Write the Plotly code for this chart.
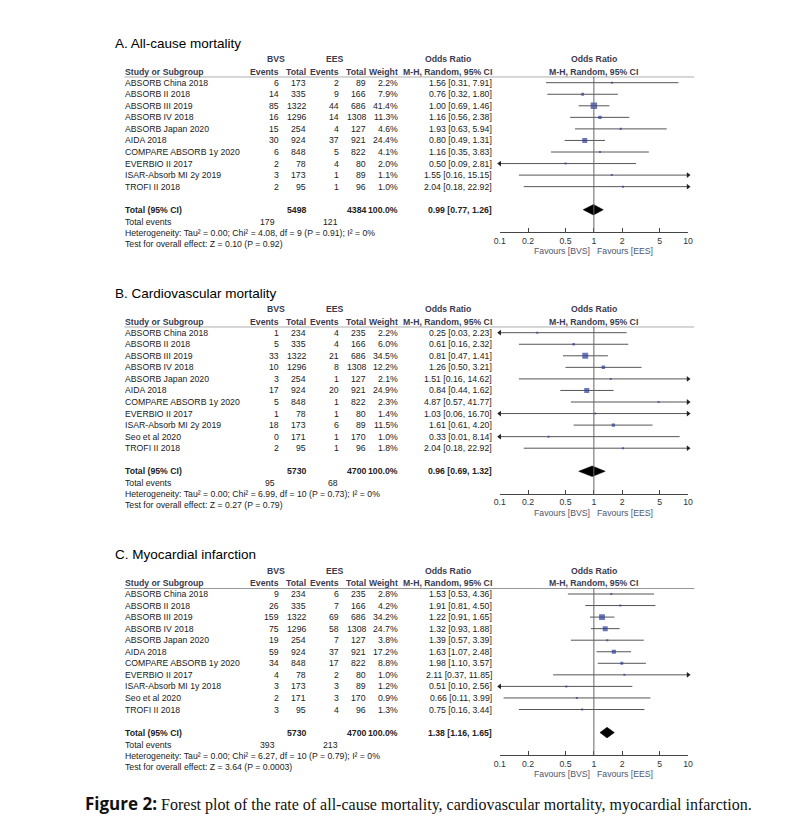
import plotly.graph_objects as go

W, H = 787, 834

# ---------------- data ----------------
studies_A = ["ABSORB China 2018", "ABSORB II 2018", "ABSORB III 2019", "ABSORB IV 2018",
             "ABSORB Japan 2020", "AIDA 2018", "COMPARE ABSORB 1y 2020", "EVERBIO II 2017",
             "ISAR-Absorb MI 2y 2019", "TROFI II 2018"]
bvs_events_A = [6, 14, 85, 16, 15, 30, 6, 2, 3, 2]
bvs_total_A = [173, 335, 1322, 1296, 254, 924, 848, 78, 173, 95]
ees_events_A = [2, 9, 44, 14, 4, 37, 5, 4, 1, 1]
ees_total_A = [89, 166, 686, 1308, 127, 921, 822, 80, 89, 96]
weight_A = [2.2, 7.9, 41.4, 11.3, 4.6, 24.4, 4.1, 2.0, 1.1, 1.0]
or_A = [1.56, 0.76, 1.00, 1.16, 1.93, 0.80, 1.16, 0.50, 1.55, 2.04]
lo_A = [0.31, 0.32, 0.69, 0.56, 0.63, 0.49, 0.35, 0.09, 0.16, 0.18]
hi_A = [7.91, 1.80, 1.46, 2.38, 5.94, 1.31, 3.83, 2.81, 15.15, 22.92]
pooled_A = [0.99, 0.77, 1.26]
het_A = "Heterogeneity: Tau² = 0.00; Chi² = 4.08, df = 9 (P = 0.91); I² = 0%"
test_A = "Test for overall effect: Z = 0.10 (P = 0.92)"

studies_B = ["ABSORB China 2018", "ABSORB II 2018", "ABSORB III 2019", "ABSORB IV 2018",
             "ABSORB Japan 2020", "AIDA 2018", "COMPARE ABSORB 1y 2020", "EVERBIO II 2017",
             "ISAR-Absorb MI 2y 2019", "Seo et al 2020", "TROFI II 2018"]
bvs_events_B = [1, 5, 33, 10, 3, 17, 5, 1, 18, 0, 2]
bvs_total_B = [234, 335, 1322, 1296, 254, 924, 848, 78, 173, 171, 95]
ees_events_B = [4, 4, 21, 8, 1, 20, 1, 1, 6, 1, 1]
ees_total_B = [235, 166, 686, 1308, 127, 921, 822, 80, 89, 170, 96]
weight_B = [2.2, 6.0, 34.5, 12.2, 2.1, 24.9, 2.3, 1.4, 11.5, 1.0, 1.8]
or_B = [0.25, 0.61, 0.81, 1.26, 1.51, 0.84, 4.87, 1.03, 1.61, 0.33, 2.04]
lo_B = [0.03, 0.16, 0.47, 0.50, 0.16, 0.44, 0.57, 0.06, 0.61, 0.01, 0.18]
hi_B = [2.23, 2.32, 1.41, 3.21, 14.62, 1.62, 41.77, 16.70, 4.20, 8.14, 22.92]
pooled_B = [0.96, 0.69, 1.32]
het_B = "Heterogeneity: Tau² = 0.00; Chi² = 6.99, df = 10 (P = 0.73); I² = 0%"
test_B = "Test for overall effect: Z = 0.27 (P = 0.79)"

studies_C = ["ABSORB China 2018", "ABSORB II 2018", "ABSORB III 2019", "ABSORB IV 2018",
             "ABSORB Japan 2020", "AIDA 2018", "COMPARE ABSORB 1y 2020", "EVERBIO II 2017",
             "ISAR-Absorb MI 1y 2018", "Seo et al 2020", "TROFI II 2018"]
bvs_events_C = [9, 26, 159, 75, 19, 59, 34, 4, 3, 2, 3]
bvs_total_C = [234, 335, 1322, 1296, 254, 924, 848, 78, 173, 171, 95]
ees_events_C = [6, 7, 69, 58, 7, 37, 17, 2, 3, 3, 4]
ees_total_C = [235, 166, 686, 1308, 127, 921, 822, 80, 89, 170, 96]
weight_C = [2.8, 4.2, 34.2, 24.7, 3.8, 17.2, 8.8, 1.0, 1.2, 0.9, 1.3]
or_C = [1.53, 1.91, 1.22, 1.32, 1.39, 1.63, 1.98, 2.11, 0.51, 0.66, 0.75]
lo_C = [0.53, 0.81, 0.91, 0.93, 0.57, 1.07, 1.10, 0.37, 0.10, 0.11, 0.16]
hi_C = [4.36, 4.50, 1.65, 1.88, 3.39, 2.48, 3.57, 11.85, 2.56, 3.99, 3.44]
pooled_C = [1.38, 1.16, 1.65]
het_C = "Heterogeneity: Tau² = 0.00; Chi² = 6.27, df = 10 (P = 0.79); I² = 0%"
test_C = "Test for overall effect: Z = 3.64 (P = 0.0003)"

titles = ["A. All-cause mortality", "B. Cardiovascular mortality", "C. Myocardial infarction"]
total_weight = "100.0%"
tick_vals = [0.1, 0.2, 0.5, 1, 2, 5, 10]
tick_text = ["0.1", "0.2", "0.5", "1", "2", "5", "10"]
caption_bold = "Figure 2:"
caption_rest = " Forest plot of the rate of all-cause mortality, cardiovascular mortality, myocardial infarction."

panels = [
    dict(studies=studies_A, be=bvs_events_A, bt=bvs_total_A, ee=ees_events_A, et=ees_total_A,
         w=weight_A, orv=or_A, lo=lo_A, hi=hi_A, pooled=pooled_A, het=het_A, test=test_A),
    dict(studies=studies_B, be=bvs_events_B, bt=bvs_total_B, ee=ees_events_B, et=ees_total_B,
         w=weight_B, orv=or_B, lo=lo_B, hi=hi_B, pooled=pooled_B, het=het_B, test=test_B),
    dict(studies=studies_C, be=bvs_events_C, bt=bvs_total_C, ee=ees_events_C, et=ees_total_C,
         w=weight_C, orv=or_C, lo=lo_C, hi=hi_C, pooled=pooled_C, het=het_C, test=test_C),
]

# ---------------- layout constants (pixels) ----------------
S = 11.55                       # row pitch
FIRST_ROW = [82.7, 332.7, 594.0]
X_LABEL = 121
X_EV1, X_TOT1, X_EV2, X_TOT2, X_WT, X_OR = 277, 304, 338, 365, 398, 493
X_BVS_H, X_EES_H, X_ORH = 274, 334, 448
AX_L, AX_R = 500.7, 691.7
AX_MID = (AX_L + AX_R) / 2
FONT = "Liberation Sans, Arial, sans-serif"
FS = 8.7
TXT = "#222222"
HDR = "#3a3a50"
SQ = "#2e3d9c"
LINEC = "#555555"

fig = go.Figure()
annotations = []
shapes = []


def ann(xpx, ypx, text, anchor="left", size=FS, bold=False, color=TXT, family=FONT):
    if bold:
        text = "<b>" + text + "</b>"
    annotations.append(dict(x=xpx / W, xref="paper", y=1 - ypx / H, yref="paper", text=text,
                            showarrow=False, xanchor=anchor, yanchor="middle",
                            borderpad=0, borderwidth=0,
                            font=dict(family=family, size=size, color=color)))


layout_axes = {}
for k, p in enumerate(panels):
    sfx = "" if k == 0 else str(k + 1)
    xname, yname = "x" + sfx, "y" + sfx
    n = len(p["studies"])
    total_row = n + 1
    axis_row = total_row + 22.5 / S
    top_row = -6 / S
    first = FIRST_ROW[k]

    def ypx(row, first=first):
        return first + row * S

    y_dom = [1 - ypx(axis_row) / H, 1 - ypx(top_row) / H]

    layout_axes["xaxis" + sfx] = dict(
        domain=[AX_L / W, AX_R / W], anchor=yname, type="log", range=[-1, 1],
        showline=True, linecolor="#444", linewidth=1, ticks="inside", ticklen=4,
        tickcolor="#444", tickvals=tick_vals, ticktext=tick_text,
        tickfont=dict(family=FONT, size=FS, color="#333"),
        showgrid=False, zeroline=False, fixedrange=True)
    layout_axes["yaxis" + sfx] = dict(
        domain=y_dom, anchor=xname, range=[axis_row, top_row], showticklabels=False,
        showgrid=False, zeroline=False, showline=False, ticks="", fixedrange=True)

    rows = list(range(n))

    # CI lines (clipped to the axis range by the plot area)
    xs, ys = [], []
    for i in rows:
        xs += [p["lo"][i], p["hi"][i], None]
        ys += [i, i, None]
    fig.add_trace(go.Scatter(x=xs, y=ys, mode="lines", xaxis=xname, yaxis=yname,
                             line=dict(color=LINEC, width=1), hoverinfo="skip",
                             showlegend=False))
    # arrows where CI leaves the axis range
    axl, ayl, axr, ayr = [], [], [], []
    for i in rows:
        if p["lo"][i] <= tick_vals[0]:
            axl.append(tick_vals[0]); ayl.append(i)
        if p["hi"][i] >= tick_vals[-1]:
            axr.append(tick_vals[-1]); ayr.append(i)
    fig.add_trace(go.Scatter(x=axl, y=ayl, mode="markers", xaxis=xname, yaxis=yname,
                             marker=dict(symbol="triangle-left", size=5, color="#222"),
                             cliponaxis=False, hoverinfo="skip", showlegend=False))
    fig.add_trace(go.Scatter(x=axr, y=ayr, mode="markers", xaxis=xname, yaxis=yname,
                             marker=dict(symbol="triangle-right", size=5, color="#222"),
                             cliponaxis=False, hoverinfo="skip", showlegend=False))
    # squares sized by weight (area ~ weight)
    sizes = [max(2.0, 1.0 * (w ** 0.5)) for w in p["w"]]
    fig.add_trace(go.Scatter(x=p["orv"], y=rows, mode="markers", xaxis=xname, yaxis=yname,
                             marker=dict(symbol="square", size=sizes, color=SQ,
                                         line=dict(width=0)),
                             hoverinfo="skip", showlegend=False))
    # pooled diamond
    est, plo, phi = p["pooled"]
    h = 5.3 / S
    fig.add_trace(go.Scatter(x=[plo, est, phi, est, plo],
                             y=[total_row, total_row - h, total_row, total_row + h, total_row],
                             mode="lines", fill="toself", fillcolor="#000",
                             line=dict(color="#000", width=0.5), xaxis=xname, yaxis=yname,
                             hoverinfo="skip", showlegend=False))

    # vertical line at OR = 1
    shapes.append(dict(type="line", xref=xname, x0=1, x1=1, yref=yname + " domain",
                       y0=0, y1=1, line=dict(color="#666", width=1)))
    # header rule
    shapes.append(dict(type="line", xref="paper", x0=120 / W, x1=698 / W,
                       yref=yname, y0=top_row, y1=top_row, line=dict(color="#333", width=1)))

    # titles & headers
    ann(111, ypx(-39.5 / S), titles[k], "left", size=13.5, color="#000")
    h1 = ypx(-23.5 / S)
    ann(X_BVS_H, h1, "BVS", "center", bold=True, color=HDR)
    ann(X_EES_H, h1, "EES", "center", bold=True, color=HDR)
    ann(X_ORH, h1, "Odds Ratio", "center", bold=True, color=HDR)
    ann(AX_MID, h1, "Odds Ratio", "center", bold=True, color=HDR)
    h2 = ypx(-11 / S)
    ann(X_LABEL, h2, "Study or Subgroup", "left", bold=True, color=HDR)
    ann(X_EV1, h2, "Events", "right", bold=True, color=HDR)
    ann(X_TOT1, h2, "Total", "right", bold=True, color=HDR)
    ann(X_EV2, h2, "Events", "right", bold=True, color=HDR)
    ann(X_TOT2, h2, "Total", "right", bold=True, color=HDR)
    ann(X_WT, h2, "Weight", "right", bold=True, color=HDR)
    ann(X_OR, h2, "M-H, Random, 95% CI", "right", bold=True, color=HDR)
    ann(AX_MID, h2, "M-H, Random, 95% CI", "center", bold=True, color=HDR)

    # study rows
    for i in rows:
        yy = ypx(i)
        ann(X_LABEL, yy, p["studies"][i], "left")
        ann(X_EV1, yy, str(p["be"][i]), "right")
        ann(X_TOT1, yy, str(p["bt"][i]), "right")
        ann(X_EV2, yy, str(p["ee"][i]), "right")
        ann(X_TOT2, yy, str(p["et"][i]), "right")
        ann(X_WT, yy, f"{p['w'][i]:.1f}%", "right")
        ann(X_OR, yy, f"{p['orv'][i]:.2f} [{p['lo'][i]:.2f}, {p['hi'][i]:.2f}]", "right")

    # totals
    yt = ypx(total_row)
    ann(X_LABEL, yt, "Total (95% CI)", "left", bold=True)
    ann(X_TOT1, yt, str(sum(p["bt"])), "right", bold=True)
    ann(X_TOT2, yt, str(sum(p["et"])), "right", bold=True)
    ann(X_WT, yt, total_weight, "right", bold=True)
    ann(X_OR, yt, f"{est:.2f} [{plo:.2f}, {phi:.2f}]", "right", bold=True)
    ann(X_LABEL, yt + 12, "Total events", "left")
    ann(273, yt + 12, str(sum(p["be"])), "right")
    ann(337, yt + 12, str(sum(p["ee"])), "right")
    ann(X_LABEL, yt + 23, p["het"], "left")
    ann(X_LABEL, yt + 34, p["test"], "left")

    # favours labels
    ya = ypx(axis_row) + 19
    ann(AX_MID - 4, ya, "Favours [BVS]", "right", color="#4d5670")
    ann(AX_MID + 3.5, ya, "Favours [EES]", "left", color="#4d5670")

# caption
annotations.append(dict(
    x=80 / W, xref="paper", y=1 - 803 / H, yref="paper", showarrow=False,
    xanchor="left", yanchor="middle", borderpad=0, borderwidth=0,
    text=("<span style=\"font-family:'Open Sans',sans-serif;font-weight:bold;font-size:17px\">"
          + caption_bold + "</span>" + caption_rest),
    font=dict(family="Liberation Serif, Times New Roman, serif", size=16, color="#111")))

fig.update_layout(
    width=W, height=H, margin=dict(l=0, r=0, t=0, b=0),
    paper_bgcolor="white", plot_bgcolor="rgba(0,0,0,0)",
    showlegend=False, annotations=annotations, shapes=shapes, **layout_axes)

fig.write_html("out.html", config={"displayModeBar": False},
               post_script="document.body.style.margin='0px';")
